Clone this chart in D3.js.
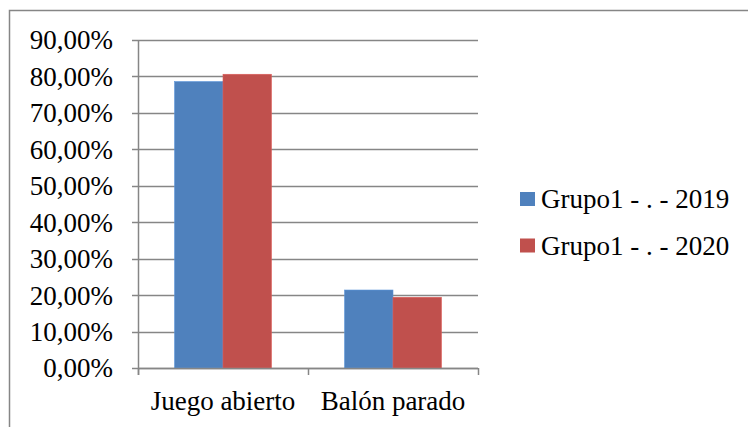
<!DOCTYPE html>
<html><head><meta charset="utf-8">
<script src="https://cdn.jsdelivr.net/npm/d3@7"></script>
<style>body{margin:0;background:#fff}svg{display:block}</style>
</head><body>
<svg id="c" width="748" height="427"></svg>
<script>
const categories = ["Juego abierto", "Balón parado"];
const seriesNames = ["Grupo1 - . - 2019", "Grupo1 - . - 2020"];
const values2019 = [0.786, 0.214];
const values2020 = [0.806, 0.194];
const yTicks = [0, 0.1, 0.2, 0.3, 0.4, 0.5, 0.6, 0.7, 0.8, 0.9];
const colors = ["#4F81BD", "#C0504D"];

(function () {
const svg = d3.select("#c");
const font = "'Liberation Serif', 'Times New Roman', serif";
const fs = 27;

// outer frame
svg.append("rect").attr("x", 9.5).attr("y", 10.5).attr("width", 760).attr("height", 440)
  .attr("fill", "none").attr("stroke", "#868686").attr("stroke-width", 1.5);

const pLeft = 138, pRight = 478, pTop = 40, pBottom = 368;
const y = d3.scaleLinear().domain([0, 0.9]).range([pBottom, pTop]);
const x = d3.scaleBand().domain(categories).range([pLeft, pRight]).paddingInner(0.43).paddingOuter(0.215);
const xs = d3.scaleBand().domain([0, 1]).range([0, x.bandwidth()]);

const fmt = v => (v * 100).toFixed(2).replace(".", ",") + "%";

// gridlines
svg.append("g").selectAll("line").data(yTicks).join("line")
  .attr("x1", pLeft - 6).attr("x2", pRight)
  .attr("y1", d => Math.round(y(d)) + 0.5).attr("y2", d => Math.round(y(d)) + 0.5)
  .attr("stroke", "#868686").attr("stroke-width", 1.5);

// y axis labels
svg.append("g").selectAll("text").data(yTicks).join("text")
  .attr("x", 113).attr("y", d => y(d)).attr("dy", "0.35em")
  .attr("text-anchor", "end").attr("font-family", font).attr("font-size", fs).attr("fill", "#000")
  .text(fmt);

// bars
const series = [values2019, values2020];
series.forEach((vals, si) => {
  svg.append("g").selectAll("rect").data(vals).join("rect")
    .attr("x", (d, i) => x(categories[i]) + xs(si))
    .attr("width", xs.bandwidth())
    .attr("y", d => y(d))
    .attr("height", d => pBottom - y(d))
    .attr("fill", colors[si])
    .attr("stroke", d3.color(colors[si]).brighter(0.4)).attr("stroke-width", 0.6);
});

// y axis line
svg.append("line").attr("x1", pLeft + 0.5).attr("x2", pLeft + 0.5).attr("y1", pTop).attr("y2", pBottom + 7)
  .attr("stroke", "#868686").attr("stroke-width", 1.5);
// x axis line
svg.append("line").attr("x1", pLeft).attr("x2", pRight).attr("y1", pBottom + 0.5).attr("y2", pBottom + 0.5)
  .attr("stroke", "#868686").attr("stroke-width", 1.5);
// category ticks
const catEdges = [pLeft, ...categories.map(c => x(c) + x.bandwidth() + x.step() * x.paddingInner() / 2)];
catEdges[catEdges.length - 1] = pRight;
svg.append("g").selectAll("line").data(catEdges).join("line")
  .attr("x1", d => d + 0.5).attr("x2", d => d + 0.5).attr("y1", pBottom).attr("y2", pBottom + 7)
  .attr("stroke", "#868686").attr("stroke-width", 1.5);

// category labels
svg.append("g").selectAll("text").data(categories).join("text")
  .attr("x", d => x(d) + x.bandwidth() / 2).attr("y", 410)
  .attr("text-anchor", "middle").attr("font-family", font).attr("font-size", fs).attr("fill", "#000")
  .text(d => d);

// legend
const lg = svg.append("g");
seriesNames.forEach((name, i) => {
  const cy = 199 + i * 46.5;
  lg.append("rect").attr("x", 520).attr("y", cy - 7).attr("width", 15).attr("height", 14).attr("fill", colors[i]);
  lg.append("text").attr("x", 541).attr("y", cy).attr("dy", "0.35em")
    .attr("font-family", font).attr("font-size", fs).attr("fill", "#000").text(name);
});
})();
</script>
</body></html>
